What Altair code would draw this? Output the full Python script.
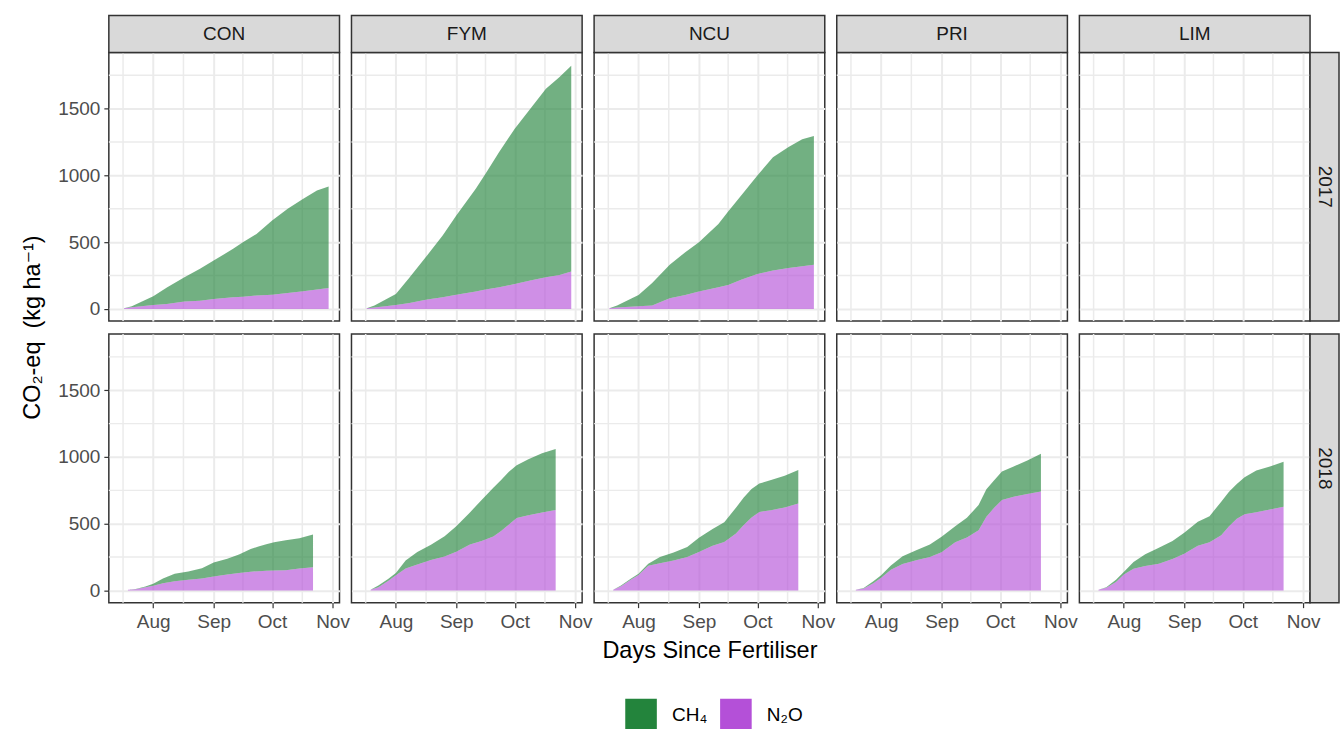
import altair as alt
import pandas as pd

FONT = "Liberation Sans, Arial, DejaVu Sans, sans-serif"
GRID = "#EBEBEB"
DARK = "#333333"
LABEL = "#4D4D4D"

treatments = ["CON", "FYM", "NCU", "PRI", "LIM"]
years = ["2017", "2018"]
gases = ["CH₄", "N₂O"]
gas_colors = ["#23843C", "#B450D8"]

dates_2017 = ["07-17", "07-21", "08-01", "08-08", "08-17", "08-25", "09-01", "09-11",
              "09-16", "09-23", "10-01", "10-09", "10-17", "10-24", "10-30"]
dates_2018 = ["07-19", "07-23", "07-28", "08-01", "08-06", "08-12", "08-19", "08-26", "09-01",
              "09-08", "09-14", "09-20", "09-24", "09-28", "10-02", "10-08", "10-15", "10-22"]

# cumulative CO2-eq (kg/ha), 2017
con17_n2o = [5, 12, 30, 37, 55, 62, 75, 87, 92, 100, 107, 120, 132, 145, 157]
con17_ch4 = [0, 8, 65, 123, 182, 238, 287, 363, 408, 462, 555, 630, 693, 742, 760]
fym17_n2o = [5, 10, 30, 45, 70, 87, 107, 130, 145, 162, 187, 212, 237, 255, 280]
fym17_ch4 = [0, 15, 82, 190, 330, 463, 593, 770, 867, 1013, 1163, 1288, 1413, 1482, 1542]
ncu17_n2o = [5, 10, 20, 25, 80, 105, 130, 162, 180, 220, 262, 287, 307, 320, 330]
ncu17_ch4 = [0, 15, 85, 170, 250, 320, 370, 475, 550, 635, 738, 850, 905, 950, 965]

# cumulative CO2-eq (kg/ha), 2018
con18_n2o = [5, 10, 25, 35, 55, 70, 80, 90, 105, 120, 132, 140, 145, 147, 150, 152, 165, 175]
con18_ch4 = [0, 2, 5, 15, 35, 55, 62, 77, 105, 117, 138, 170, 185, 200, 212, 225, 227, 245]
fym18_n2o = [5, 25, 72, 115, 165, 195, 228, 255, 290, 345, 370, 405, 445, 495, 543, 563, 585, 603]
fym18_ch4 = [0, 12, 15, 16, 60, 93, 115, 151, 192, 240, 308, 365, 383, 395, 396, 420, 443, 457]
ncu18_n2o = [5, 32, 80, 116, 185, 205, 225, 250, 288, 336, 364, 427, 490, 547, 588, 602, 622, 652]
ncu18_ch4 = [0, 6, 8, 9, 15, 45, 60, 76, 108, 124, 148, 193, 207, 213, 213, 226, 238, 251]
pri18_n2o = [5, 15, 55, 95, 155, 198, 226, 251, 286, 361, 397, 452, 553, 620, 678, 703, 723, 742]
pri18_ch4 = [0, 3, 15, 20, 33, 58, 75, 93, 116, 121, 148, 188, 205, 206, 213, 226, 251, 283]
lim18_n2o = [5, 20, 63, 120, 163, 183, 200, 236, 276, 336, 361, 414, 482, 537, 572, 587, 607, 627]
lim18_ch4 = [0, 5, 17, 18, 50, 88, 121, 135, 156, 179, 196, 251, 258, 261, 276, 311, 322, 338]

series = {
    ("2017", "CON"): (dates_2017, con17_n2o, con17_ch4),
    ("2017", "FYM"): (dates_2017, fym17_n2o, fym17_ch4),
    ("2017", "NCU"): (dates_2017, ncu17_n2o, ncu17_ch4),
    ("2018", "CON"): (dates_2018, con18_n2o, con18_ch4),
    ("2018", "FYM"): (dates_2018, fym18_n2o, fym18_ch4),
    ("2018", "NCU"): (dates_2018, ncu18_n2o, ncu18_ch4),
    ("2018", "PRI"): (dates_2018, pri18_n2o, pri18_ch4),
    ("2018", "LIM"): (dates_2018, lim18_n2o, lim18_ch4),
}

rows = []
for (yr, trt), (dts, n2o, ch4) in series.items():
    for d, a, b in zip(dts, n2o, ch4):
        rows.append(dict(year=yr, trt=trt, date=f"2018-{d}T00:00:00", gas="N₂O", value=a, ord=0))
        rows.append(dict(year=yr, trt=trt, date=f"2018-{d}T00:00:00", gas="CH₄", value=b, ord=1))
df = pd.DataFrame(rows)

minor_x = pd.DataFrame({"date": ["2018-07-16T12:00:00", "2018-08-16T12:00:00",
                                 "2018-09-16T00:00:00", "2018-10-16T12:00:00"]})
minor_y = pd.DataFrame({"value": [250, 750, 1250, 1750]})

W, H = 231, 269
STRIP = 37
RSTRIP = 29

month_ticks = [alt.DateTime(year=2018, month=m, date=1) for m in (8, 9, 10, 11)]
x_scale = alt.Scale(domain=[alt.DateTime(year=2018, month=7, date=9, hours=5),
                            alt.DateTime(year=2018, month=11, date=4, hours=14)], nice=False)
y_scale = alt.Scale(domain=[-91, 1921], nice=False, zero=False)

legend = alt.Legend(orient="none", legendX=517, legendY=647, direction="horizontal", title=None,
                    symbolType="square", symbolSize=1000, symbolOpacity=1, symbolStrokeWidth=0,
                    labelFontSize=19, labelFont=FONT, labelColor="black", labelOffset=15,
                    columnPadding=12, padding=0)


def make_panel(yr, trt, col):
    top = yr == years[0]
    bottom = not top
    left = col == 0
    right = col == len(treatments) - 1
    xax = alt.Axis(values=month_ticks, format="%b", labels=bottom, ticks=bottom, domain=False,
                   grid=True, gridColor=GRID, gridWidth=2, tickSize=5, tickColor=DARK, tickWidth=1.2,
                   labelFontSize=19, labelColor=LABEL, labelFont=FONT, labelPadding=5,
                   labelFlush=False, labelOverlap=False,
                   title=("Days Since Fertiliser" if (bottom and col == 2) else None),
                   titleFontSize=23.5, titleFont=FONT, titleFontWeight="normal", titleColor="black",
                   titlePadding=7)
    yax = alt.Axis(values=[0, 500, 1000, 1500], format="d", labels=left, ticks=left, domain=False,
                   grid=True, gridColor=GRID, gridWidth=2, tickSize=5, tickColor=DARK, tickWidth=1.2,
                   labelFontSize=19, labelColor=LABEL, labelFont=FONT, labelPadding=4,
                   labelFlush=False, labelOverlap=False,
                   title=("CO₂-eq \u00a0(kg ha⁻¹)" if (left and top) else None),
                   titleFontSize=23.5, titleFont=FONT, titleFontWeight="normal", titleColor="black",
                   titleX=-76, titleY=H + 6, titleAngle=270, titleAlign="center", titleBaseline="middle")

    layers = [
        alt.Chart(minor_x).mark_rule(color=GRID, strokeWidth=1.5).encode(
            x=alt.X("date:T", scale=x_scale, axis=xax)),
        alt.Chart(minor_y).mark_rule(color=GRID, strokeWidth=1.5).encode(
            y=alt.Y("value:Q", scale=y_scale, axis=yax)),
    ]
    sub = df[(df.year == yr) & (df.trt == trt)]
    if len(sub):
        layers.append(
            alt.Chart(sub).mark_area(opacity=0.64, interpolate="linear").encode(
                x=alt.X("date:T", scale=x_scale, axis=xax),
                y=alt.Y("value:Q", stack="zero", scale=y_scale, axis=yax),
                color=alt.Color("gas:N", scale=alt.Scale(domain=gases, range=gas_colors), legend=legend),
                order=alt.Order("ord:Q", sort="ascending"),
            )
        )
    if top:
        sdf = pd.DataFrame({"label": [trt]})
        layers.append(alt.Chart(sdf).mark_rect(fill="#D9D9D9", stroke=DARK, strokeWidth=1.5).encode(
            x=alt.value(0), x2=alt.value(W), y=alt.value(-STRIP), y2=alt.value(0)))
        layers.append(alt.Chart(sdf).mark_text(fontSize=19, font=FONT, color="#1A1A1A").encode(
            x=alt.value(W / 2), y=alt.value(-STRIP / 2), text="label:N"))
    if right:
        rdf = pd.DataFrame({"label": [yr]})
        layers.append(alt.Chart(rdf).mark_rect(fill="#D9D9D9", stroke=DARK, strokeWidth=1.5).encode(
            x=alt.value(W), x2=alt.value(W + RSTRIP), y=alt.value(0), y2=alt.value(H)))
        layers.append(alt.Chart(rdf).mark_text(fontSize=19, font=FONT, color="#1A1A1A", angle=90).encode(
            x=alt.value(W + RSTRIP / 2), y=alt.value(H / 2), text="label:N"))
    return alt.layer(*layers).properties(
        width=W, height=H, view=alt.ViewBackground(stroke=DARK, strokeWidth=1.5))


panels = []
for yr in years:
    for j, trt in enumerate(treatments):
        panels.append(make_panel(yr, trt, j))

chart = alt.concat(*panels, columns=5, spacing={"row": 13, "column": 12}, bounds="flush").properties(
    padding={"left": 20, "top": 13, "right": 0, "bottom": 0}
).configure(font=FONT, background="white").configure_view(stroke=DARK, strokeWidth=1.5)

chart.save("out.html", embed_options={"renderer": "svg", "actions": False})
